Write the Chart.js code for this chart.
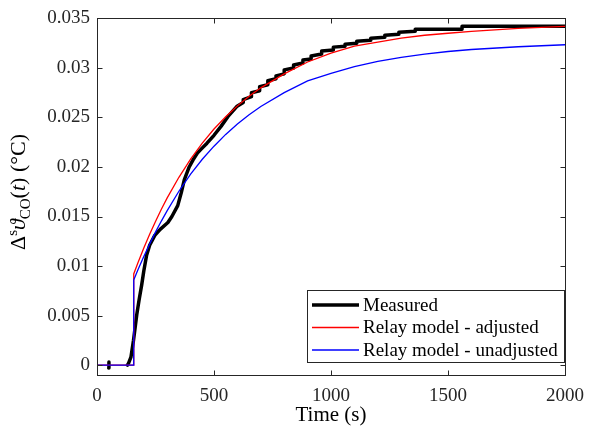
<!DOCTYPE html>
<html lang="en">
<head>
    <meta charset="UTF-8">
    <title>Relay model vs measured</title>
    <script src="https://cdn.jsdelivr.net/npm/chart.js"></script>
    <style>
        html, body { margin: 0; padding: 0; background: #fff; }
        #wrap { width: 594px; height: 431px; }
    </style>
</head>
<body>
<div id="wrap"><canvas id="chart" width="594" height="431"></canvas></div>
<script>
    // time (s) / temperature rise (°C)
    const measuredT = [50, 51, 90, 130, 135, 145, 156, 163, 170, 180, 191, 200, 212, 225, 247, 270, 303, 320, 345, 360, 373, 394, 410, 429, 445, 470, 500, 530, 560, 597,
        625, 625, 660, 660, 695, 695, 730, 730, 765, 765, 800, 800, 840, 840, 880, 880, 915, 915, 960, 960, 1010, 1010, 1060, 1060, 1110, 1110, 1170, 1170, 1230, 1230, 1290, 1290, 1360, 1360, 1480, 1560, 1560, 2000];
    const measuredV = [-0.0003, 0.0003, null, 0, 0.0002, 0.0008, 0.0025, 0.0038, 0.0051, 0.0066, 0.0081, 0.0095, 0.0111, 0.0121, 0.0131, 0.0137, 0.0144, 0.0150, 0.0161, 0.0174, 0.0187, 0.0200, 0.0207, 0.0214, 0.0218, 0.0224, 0.0232, 0.0241, 0.0251, 0.0261,
        0.0265, 0.0268, 0.0271, 0.0275, 0.0277, 0.0281, 0.0283, 0.0287, 0.0289, 0.0292, 0.0294, 0.0298, 0.0300, 0.0303, 0.0305, 0.0308, 0.0309, 0.0312, 0.0314, 0.0317, 0.0318, 0.0321, 0.0322, 0.0324, 0.0325, 0.0327, 0.0328, 0.0330, 0.0331, 0.0333, 0.0334, 0.0336, 0.0337, 0.0339, 0.0339, 0.0339, 0.0342, 0.0342];

    const adjustedT = [0, 157, 157, 175, 200, 225, 250, 275, 300, 350, 400, 450, 500, 550, 600, 650, 700, 800, 900, 1000, 1100, 1200, 1300, 1400, 1500, 1600, 1800, 2000];
    const adjustedV = [0, 0, 0.0092, 0.01033, 0.01181, 0.0132, 0.0145, 0.01573, 0.01688, 0.01896, 0.02079, 0.0224, 0.02383, 0.02507, 0.02617, 0.02714, 0.02799, 0.0294, 0.0306, 0.0315, 0.0322, 0.0326, 0.0330, 0.0333, 0.0335, 0.0337, 0.0340, 0.0342];

    const unadjustedT = [0, 157, 157, 175, 200, 225, 250, 275, 300, 350, 400, 450, 500, 550, 600, 650, 700, 800, 900, 1000, 1100, 1200, 1300, 1400, 1500, 1600, 1800, 2000];
    const unadjustedV = [0, 0, 0.0086, 0.00962, 0.01096, 0.01223, 0.01342, 0.01454, 0.0156, 0.01755, 0.01928, 0.02078, 0.0221, 0.02329, 0.02435, 0.02528, 0.02611, 0.0275, 0.0287, 0.02945, 0.03013, 0.03066, 0.03107, 0.0314, 0.03166, 0.03186, 0.03214, 0.03234];

    const xTicks = [0, 500, 1000, 1500, 2000];
    const yTicks = [0, 0.005, 0.01, 0.015, 0.02, 0.025, 0.03, 0.035];
    const yTickLabels = ['0', '0.005', '0.01', '0.015', '0.02', '0.025', '0.03', '0.035'];

    const AX = '#262626';
    const SERIF = '"Liberation Serif", "Times New Roman", serif';

    const toXY = (ts, vs) => ts.map((t, i) => ({ x: t, y: vs[i] }));

    // box, inward ticks, legend and the y label with sub/superscripts
    const matlabAxes = {
        id: 'matlabAxes',
        afterDraw(chart) {
            const ctx = chart.ctx;
            const a = chart.chartArea;
            const xs = chart.scales.x, ys = chart.scales.y;
            const L = Math.round(a.left) + 0.5, R = Math.round(a.right) + 0.5;
            const T = Math.round(a.top) + 0.5, B = Math.round(a.bottom) + 0.5;
            ctx.save();
            ctx.strokeStyle = AX;
            ctx.lineWidth = 1;
            ctx.strokeRect(L, T, R - L, B - T);
            ctx.beginPath();
            xTicks.forEach(v => {
                const px = Math.round(xs.getPixelForValue(v)) + 0.5;
                ctx.moveTo(px, B); ctx.lineTo(px, B - 5);
                ctx.moveTo(px, T); ctx.lineTo(px, T + 5);
            });
            yTicks.forEach(v => {
                const py = Math.round(ys.getPixelForValue(v)) + 0.5;
                ctx.moveTo(L, py); ctx.lineTo(L + 5, py);
                ctx.moveTo(R, py); ctx.lineTo(R - 5, py);
            });
            ctx.stroke();

            // legend
            const lx = 307.5, ly = 290.5, lw = 257, lh = 72;
            ctx.fillStyle = '#fff';
            ctx.fillRect(lx, ly, lw, lh);
            ctx.strokeStyle = AX;
            ctx.strokeRect(lx, ly, lw, lh);
            ctx.font = '19px ' + SERIF;
            ctx.textBaseline = 'middle';
            ctx.textAlign = 'left';
            chart.data.datasets.forEach((ds, i) => {
                const y = 305 + i * 22.5;
                ctx.beginPath();
                ctx.strokeStyle = ds.borderColor;
                ctx.lineWidth = ds.borderWidth;
                ctx.lineCap = 'butt';
                ctx.moveTo(312, y); ctx.lineTo(359, y);
                ctx.stroke();
                ctx.fillStyle = '#000';
                ctx.fillText(ds.label, 363, y + 1);
            });

            // y label: Δ^s ϑ_CO(t) (°C)
            const parts = [
                { t: 'Δ', f: '22px ' + SERIF, dy: 0 },
                { t: 's', f: '15px ' + SERIF, dy: -8 },
                { t: 'ϑ', f: 'italic 22px ' + SERIF, dy: 0 },
                { t: 'CO', f: '15px ' + SERIF, dy: 5 },
                { t: '(', f: '22px ' + SERIF, dy: 0 },
                { t: 't', f: 'italic 22px ' + SERIF, dy: 0 },
                { t: ') (°C)', f: '22px ' + SERIF, dy: 0 }
            ];
            let total = 0;
            parts.forEach(p => { ctx.font = p.f; p.w = ctx.measureText(p.t).width; total += p.w; });
            ctx.translate(25, 192);
            ctx.rotate(-Math.PI / 2);
            ctx.fillStyle = '#000';
            ctx.textBaseline = 'alphabetic';
            let cx = -total / 2;
            parts.forEach(p => {
                ctx.font = p.f;
                ctx.fillText(p.t, cx, p.dy);
                cx += p.w;
            });
            ctx.restore();
        }
    };

    new Chart(document.getElementById('chart'), {
        type: 'line',
        data: {
            datasets: [
                { label: 'Measured', data: toXY(measuredT, measuredV), borderColor: '#000000', borderWidth: 3.5,
                  borderCapStyle: 'round', borderJoinStyle: 'round', spanGaps: false, order: 3 },
                { label: 'Relay model - adjusted', data: toXY(adjustedT, adjustedV), borderColor: '#ff0000', borderWidth: 1.3, order: 2 },
                { label: 'Relay model - unadjusted', data: toXY(unadjustedT, unadjustedV), borderColor: '#0000ff', borderWidth: 1.3, order: 1 }
            ]
        },
        options: {
            responsive: false,
            animation: false,
            events: [],
            layout: { padding: { left: 0, top: 13, right: 19, bottom: 0 } },
            elements: { point: { radius: 0 }, line: { tension: 0, fill: false } },
            plugins: { legend: { display: false }, tooltip: { enabled: false } },
            scales: {
                x: {
                    type: 'linear', min: 0, max: 2000,
                    afterBuildTicks: s => { s.ticks = xTicks.map(v => ({ value: v })); },
                    afterFit: s => { s.height = 56; },
                    grid: { display: false, drawTicks: false },
                    border: { display: false },
                    ticks: { color: AX, font: { family: SERIF, size: 19 }, padding: 10, maxRotation: 0,
                        callback: v => String(v) },
                    title: { display: true, text: 'Time (s)', color: '#000', font: { family: SERIF, size: 21 }, padding: { top: 0, bottom: 3 } }
                },
                y: {
                    type: 'linear', min: -0.001, max: 0.035,
                    afterBuildTicks: s => { s.ticks = yTicks.map(v => ({ value: v })); },
                    afterFit: s => { s.width = 97; },
                    grid: { display: false, drawTicks: false },
                    border: { display: false },
                    ticks: { color: AX, font: { family: SERIF, size: 19 }, padding: 7,
                        callback: (v, i) => yTickLabels[i] }
                }
            }
        },
        plugins: [matlabAxes]
    });
</script>
</body>
</html>
